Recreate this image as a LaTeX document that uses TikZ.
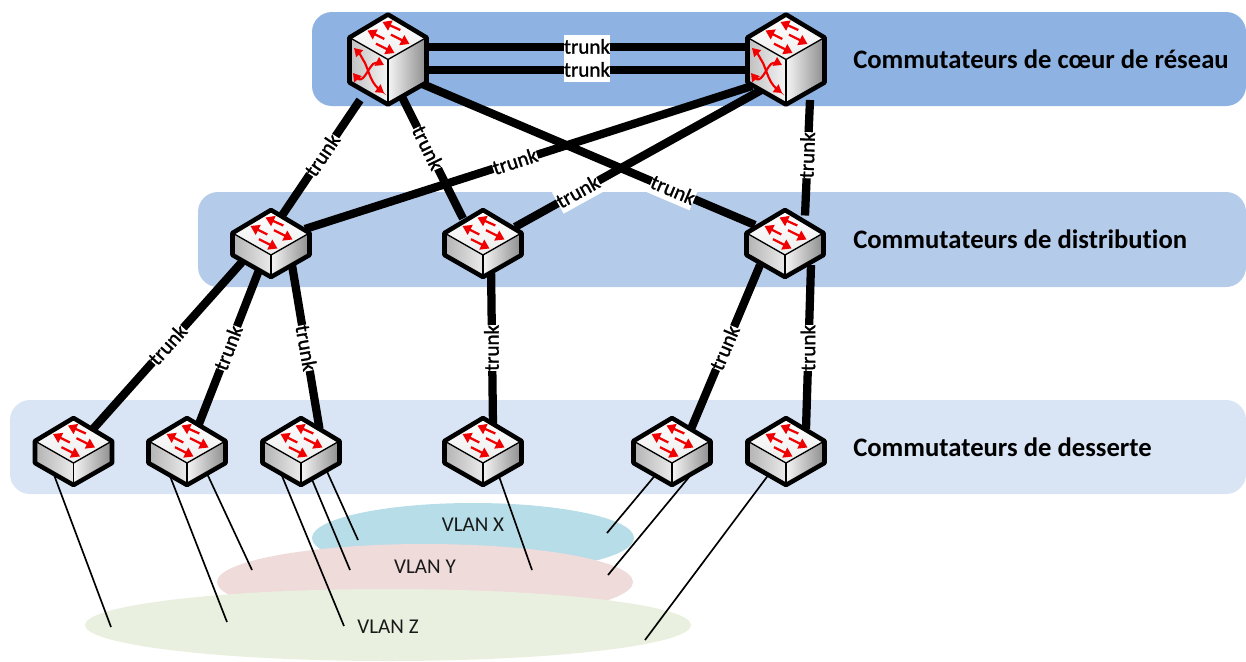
\documentclass[tikz,border=0pt]{standalone}
\usepackage{fontspec}
\setmainfont[Ligatures=NoCommon]{Carlito}
\newfontfamily\trunkfont[FakeBold=1.2,Ligatures=NoCommon]{Carlito}
\usetikzlibrary{arrows.meta,calc,shadings}
\definecolor{bandA}{HTML}{8EB3E3}
\definecolor{bandB}{HTML}{B5CBEA}
\definecolor{bandC}{HTML}{D9E5F5}
\definecolor{vlanX}{HTML}{B6DDE8}
\definecolor{vlanY}{HTML}{F0DBDB}
\definecolor{vlanZ}{HTML}{E9F0DF}
\definecolor{swred}{HTML}{F00000}
\tikzset{
  x=0.75pt,y=-0.75pt,
  band/.style={rounded corners=15pt,draw=none},
  vlan/.style={draw=none},
  thick link/.style={line width=6.2pt,black},
  thin link/.style={line width=1.25pt,black},
  trunk label/.style={fill=white,font=\fontsize{15.8}{16}\trunkfont,inner xsep=0pt,inner ysep=0pt,minimum height=18pt,text height=10pt,text depth=0pt},
  band title/.style={font=\fontsize{20}{22}\selectfont\bfseries,anchor=west,inner sep=0pt},
  vlan label/.style={font=\fontsize{15.8}{17}\selectfont,inner sep=0pt,text=black!90},
  outline/.style={draw=black,line width=3.4pt,line join=round},
  swarrow/.style={draw=swred,line width=1.7pt,-{Triangle[length=6.5pt,width=8pt,fill=swred]}},
  swarrowb/.style={draw=swred,line width=1.6pt,{Triangle[length=6pt,width=7pt,fill=swred]}-{Triangle[length=6pt,width=7pt,fill=swred]}},
}
\newcommand{\topface}[2]{%
  \begin{scope}[shift={(#1)},yshift=#2*0.75pt]
  \path[top color=white,bottom color=black!7] (0,-33.5) -- (38.5,-10.5) -- (0,11.5) -- (-38.5,-10.5) -- cycle;
  \draw[swarrow] (12.3,-18) -- (-5.5,-26);
  \draw[swarrow] (-3.7,-9) -- (-20.5,-17.5);
  \draw[swarrow] (3,-13.3) -- (21.5,-4);
  \draw[swarrow] (-12,-4.3) -- (6.5,5);
  \draw[black,line width=1pt] (-38.5,-10.5) -- (0,11.5) -- (38.5,-10.5);
  \end{scope}}
\newcommand{\smallsw}[1]{%
  \path[left color=black!30,right color=black!8] (#1)++(-38.5,-10.5) -- ++(38.5,22) -- ++(0,22) -- ++(-38.5,-22) -- cycle;
  \path[left color=black!4,right color=black!45] (#1)++(0,11.5) -- ++(38.5,-22) -- ++(0,22) -- ++(-38.5,22) -- cycle;
  \topface{#1}{0}
  \draw[black,line width=1pt] (#1)++(0,11.5) -- ++(0,22);
  \draw[outline] (#1)++(0,-33.5) -- ++(38.5,23) -- ++(0,22) -- ++(-38.5,22) -- ++(-38.5,-22) -- ++(0,-22) -- cycle;
}
\newcommand{\coresw}[1]{%
  \path[left color=black!25,right color=black!4] (#1)++(-38.5,-21.5) -- ++(38.5,22) -- ++(0,45) -- ++(-38.5,-22) -- cycle;
  \path[left color=black!4,right color=black!45] (#1)++(0,0.5) -- ++(38.5,-22) -- ++(0,45) -- ++(-38.5,22) -- cycle;
  \topface{#1}{11}
  \draw[black,line width=1pt] (#1)++(0,0.5) -- ++(0,45);
  \begin{scope}[shift={(#1)}]
  \draw[swarrowb] (-34,-11) .. controls (-28,-5) and (-26,-1) .. (-23,4) .. controls (-20,11) and (-18,18) .. (-15,23) .. controls (-12,28) and (-8,31) .. (-4,34);
  \draw[swarrowb] (-35,14) .. controls (-31,19) and (-28,22) .. (-25,19) .. controls (-21,15) and (-19,9) .. (-15,5) .. controls (-12,3) and (-8,4) .. (-4,6);
  \end{scope}
  \draw[outline] (#1)++(0,-44.5) -- ++(38.5,23) -- ++(0,45) -- ++(-38.5,22) -- ++(-38.5,-22) -- ++(0,-45) -- cycle;
}
\begin{document}
\begin{tikzpicture}
\useasboundingbox (0,0) rectangle (1246,661);
% switch positions
\coordinate (c1) at (388,59);
\coordinate (c2) at (786,59);
\coordinate (d1) at (271,243.5);
\coordinate (d2) at (483,243.5);
\coordinate (d3) at (785,243.5);
\coordinate (a1) at (73.5,451.5);
\coordinate (a2) at (187,451.5);
\coordinate (a3) at (301,451.5);
\coordinate (a4) at (483,451.5);
\coordinate (a5) at (672,451.5);
\coordinate (a6) at (786,451.5);
% bands
\fill[bandA,band] (312,12) rectangle (1246,106);
\fill[bandB,band] (198,192) rectangle (1246,287);
\fill[bandC,band] (10,400) rectangle (1246,494);
\node[band title] (t1) at (853,59) {Commutateurs de cœur de réseau};
\node[band title] (t2) at (853,239) {Commutateurs de distribution};
\node[band title] (t3) at (853,447) {Commutateurs de desserte};
% VLANs
\fill[vlanX,vlan] (473,538) ellipse [x radius=161,y radius=35];
\fill[vlanY,vlan] (425,582) ellipse [x radius=208,y radius=38];
\fill[vlanZ,vlan] (388,625) ellipse [x radius=303,y radius=36];
\node[vlan label] (vx) at (473,525) {VLAN X};
\node[vlan label] (vy) at (425,567) {VLAN Y};
\node[vlan label] (vz) at (388,627) {VLAN Z};
% thin links
\coordinate (e1) at (111,627);
\coordinate (e2) at (227,622);
\coordinate (e3) at (252,570);
\coordinate (e4) at (344,626);
\coordinate (e5) at (350,570);
\coordinate (e6) at (358,540);
\coordinate (e7) at (532,570);
\coordinate (e8) at (607,533);
\coordinate (e9) at (608,575);
\coordinate (e10) at (645,640);
\draw[thin link] ($(a1)+(-20,22)$) -- (e1);
\draw[thin link] ($(a2)+(-18,22)$) -- (e2);
\draw[thin link] ($(a2)+(20,22)$) -- (e3);
\draw[thin link] ($(a3)+(-20,22)$) -- (e4);
\draw[thin link] ($(a3)+(11,28)$) -- (e5);
\draw[thin link] ($(a3)+(26,20)$) -- (e6);
\draw[thin link] ($(a4)+(15,22)$) -- (e7);
\draw[thin link] ($(a5)+(-17,24)$) -- (e8);
\draw[thin link] ($(a5)+(20,22)$) -- (e9);
\draw[thin link] ($(a6)+(-18,24)$) -- (e10);
% thick links
\draw[thick link] ($(c1)+(30,-12)$) -- node[trunk label,pos=0.5] (l1) {trunk} ($(c2)+(-30,-12)$);
\draw[thick link] ($(c1)+(30,11)$) -- node[trunk label,pos=0.5] (l2) {trunk} ($(c2)+(-30,11)$);
\draw[thick link] ($(c1)+(-28,41)$) -- node[trunk label,pos=0.466,rotate=56] (l3) {trunk} ($(d1)+(9,-25)$);
\draw[thick link] ($(c1)+(14,38)$) -- node[trunk label,pos=0.42,rotate=-64] (l4) {trunk} ($(d2)+(-20,-25)$);
\draw[thick link] ($(c1)+(32,24)$) -- node[trunk label,pos=0.755,rotate=-23] (l5) {trunk} ($(d3)+(-30,-18.5)$);
\draw[thick link] ($(c2)+(-34,27)$) -- node[trunk label,pos=0.53,rotate=18] (l6) {trunk} ($(d1)+(34,-14.5)$);
\draw[thick link] ($(c2)+(-21,29)$) -- node[trunk label,pos=0.748,rotate=29] (l7) {trunk} ($(d2)+(32,-16.5)$);
\draw[thick link] ($(c2)+(24,41)$) -- node[trunk label,pos=0.478,rotate=88] (l8) {trunk} ($(d3)+(20,-28)$);
\draw[thick link] ($(d1)+(-29,18.5)$) -- node[trunk label,pos=0.497,rotate=48] (l9) {trunk} ($(a1)+(19.5,-22.5)$);
\draw[thick link] ($(d1)+(-10,21.5)$) -- node[trunk label,pos=0.506,rotate=69] (l10) {trunk} ($(a2)+(10,-22.5)$);
\draw[thick link] ($(d1)+(21,21.5)$) -- node[trunk label,pos=0.506,rotate=-80] (l11) {trunk} ($(a3)+(18.5,-22.5)$);
\draw[thick link] ($(d2)+(8,21.5)$) -- node[trunk label,pos=0.515,rotate=90] (l12) {trunk} ($(a4)+(10,-25.5)$);
\draw[thick link] ($(d3)+(-25,21.5)$) -- node[trunk label,pos=0.506,rotate=67] (l13) {trunk} ($(a5)+(19,-22.5)$);
\draw[thick link] ($(d3)+(26,21.5)$) -- node[trunk label,pos=0.506,rotate=90] (l14) {trunk} ($(a6)+(20,-22.5)$);
% switches
\coresw{c1}
\coresw{c2}
\smallsw{d1}\smallsw{d2}\smallsw{d3}
\smallsw{a1}\smallsw{a2}\smallsw{a3}\smallsw{a4}\smallsw{a5}\smallsw{a6}
\end{tikzpicture}
\end{document}
